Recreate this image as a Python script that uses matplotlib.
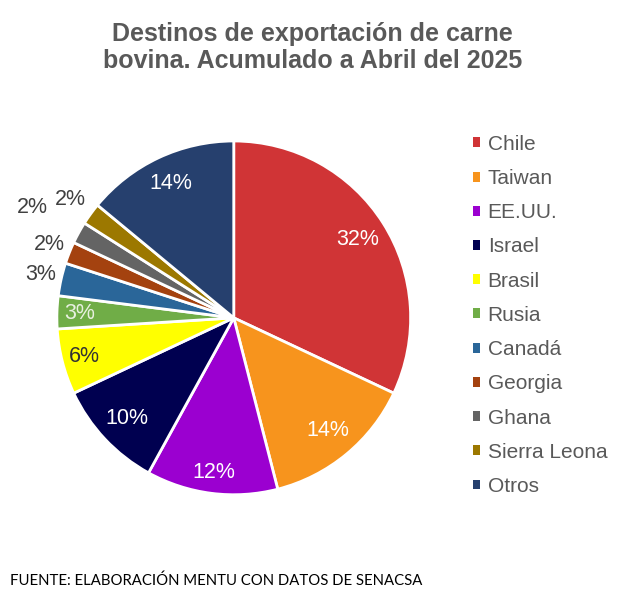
import numpy as np
import matplotlib.pyplot as plt
from matplotlib.patches import Patch

paises = ["Chile", "Taiwan", "EE.UU.", "Israel", "Brasil", "Rusia",
          "Canadá", "Georgia", "Ghana", "Sierra Leona", "Otros"]
porcentajes = [32, 14, 12, 10, 6, 3, 3, 2, 2, 2, 14]
colores = ["#d03436", "#f7941d", "#9b00d0", "#000050", "#ffff00", "#70ad47",
           "#2a6699", "#a4420f", "#646464", "#9c7800", "#26406e"]

# label placement (radius as fraction of pie radius) and text colour
radios = [0.83, 0.83, 0.88, 0.83, 0.87, 0.87, 1.12, 1.12, 1.30, 1.14, 0.84]
col_txt = ["white", "white", "white", "white", "#333333", "#e8f0e0",
           "#404040", "#404040", "#404040", "#404040", "white"]

fig = plt.figure(figsize=(6.25, 6.02), dpi=100)
plt.rcParams['font.family'] = ['Liberation Sans', 'DejaVu Sans']

ax = fig.add_axes([0.374 - 0.283, 0.472 - 0.294, 0.566, 0.588])
wedges, _ = ax.pie(porcentajes, colors=colores, startangle=90, counterclock=False,
                   wedgeprops=dict(edgecolor="white", linewidth=2))
ax.set_xlim(-1, 1)
ax.set_ylim(-1, 1)
ax.set_aspect("equal")

acum = np.cumsum([0] + porcentajes)
for i, p in enumerate(porcentajes):
    mid = (acum[i] + p / 2) / 100 * 2 * np.pi
    x = np.sin(mid) * radios[i]
    y = np.cos(mid) * radios[i]
    ax.text(x, y, f"{p}%", ha="center", va="center", fontsize=15.5,
            color=col_txt[i])

fig.text(0.5, 0.963, "Destinos de exportación de carne\nbovina. Acumulado a Abril del 2025",
         ha="center", va="top", fontsize=18, fontweight="bold", color="#595959",
         linespacing=1.12)

handles = [Patch(facecolor=c, edgecolor="none") for c in colores]
fig.legend(handles, paises, loc="upper left", bbox_to_anchor=(0.757, 0.776),
           frameon=False, fontsize=15, handlelength=0.35, handleheight=0.35,
           handletextpad=0.35, labelspacing=0.73, labelcolor="#595959",
           borderpad=0, borderaxespad=0)

fig.text(0.016, 0.028, "FUENTE: ELABORACIÓN MENTU CON DATOS DE SENACSA",
         fontsize=10.7, color="black", family=["Lato", "DejaVu Sans"])

fig.savefig("out.png", dpi=100)
